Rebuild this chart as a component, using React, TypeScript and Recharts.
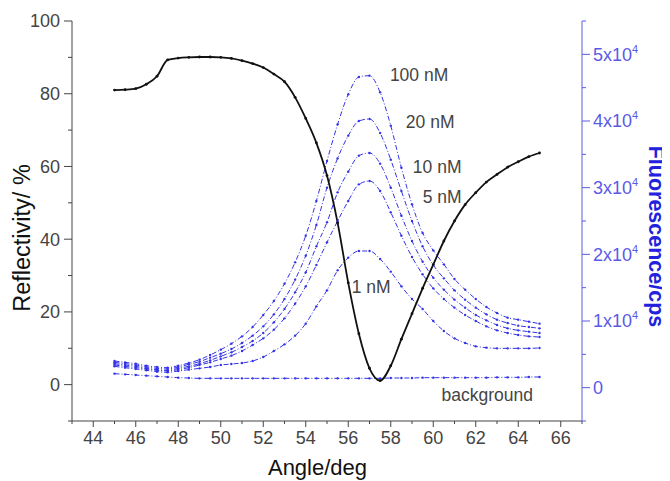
import React from "react";
import {
  LineChart,
  Line,
  XAxis,
  YAxis,
  ReferenceDot,
} from "recharts";

// angle in degrees, reflectivity in %, fluorescence in 10^3 cps
const ANGLES = [
  45, 45.5, 46, 46.5, 47, 47.5, 48, 48.5, 49, 49.5, 50, 50.5, 51, 51.5, 52,
  52.5, 53, 53.5, 54, 54.5, 55, 55.5, 56, 56.5, 57, 57.5, 58, 58.5, 59, 59.5,
  60, 60.5, 61, 61.5, 62, 62.5, 63, 63.5, 64, 64.5, 65,
];

const REFLECTIVITY = [
  81.0, 81.1, 81.4, 82.6, 84.8, 89.3, 89.8, 90.0, 90.1, 90.1, 90.0, 89.7, 89.1,
  88.3, 87.2, 85.4, 83.3, 79.0, 73.2, 66.5, 57.5, 44.5, 28.0, 14.0, 4.5, 1.1,
  5.2, 12.5, 19.5, 26.5, 33.0, 39.5, 45.0, 49.5, 52.8, 55.7, 57.8, 59.8, 61.3,
  62.7, 63.7,
];

const FL_100NM = [
  4.0, 3.8, 3.6, 3.3, 3.1, 3.0, 3.3, 3.7, 4.2, 4.9, 5.7, 6.6, 7.7, 9.1, 10.9,
  13.0, 15.6, 18.8, 22.8, 28.0, 34.0, 39.5, 44.0, 46.6, 46.8, 44.3, 39.3, 33.0,
  27.5, 23.2, 20.6, 18.5, 16.3, 14.7, 13.3, 12.1, 11.2, 10.5, 10.2, 9.9, 9.6,
];

const FL_20NM = [
  3.8, 3.6, 3.4, 3.1, 2.9, 2.8, 3.1, 3.5, 3.9, 4.5, 5.1, 5.8, 6.7, 7.8, 9.2,
  11.0, 13.3, 16.2, 19.8, 24.4, 30.0, 34.4, 37.8, 40.0, 40.3, 38.2, 34.2, 29.5,
  25.0, 21.2, 18.4, 16.4, 14.6, 13.2, 12.0, 11.0, 10.2, 9.7, 9.3, 9.1, 8.9,
];

const FL_10NM = [
  3.6, 3.4, 3.2, 2.9, 2.7, 2.6, 2.9, 3.2, 3.6, 4.1, 4.7, 5.3, 6.1, 7.0, 8.2,
  9.8, 11.8, 14.3, 17.3, 21.2, 24.8, 29.3, 32.4, 34.8, 35.2, 33.6, 30.0, 25.8,
  22.0, 18.9, 16.5, 14.7, 13.2, 12.0, 10.9, 10.1, 9.4, 8.9, 8.6, 8.4, 8.2,
];

const FL_5NM = [
  3.4, 3.2, 3.0, 2.8, 2.6, 2.5, 2.7, 3.0, 3.4, 3.8, 4.3, 4.8, 5.5, 6.4, 7.4,
  8.7, 10.4, 12.6, 15.2, 18.4, 21.8, 25.0, 28.0, 30.5, 31.0, 29.5, 26.3, 22.8,
  19.6, 17.0, 14.9, 13.3, 12.0, 10.9, 10.0, 9.2, 8.6, 8.2, 7.9, 7.7, 7.6,
];

const FL_1NM = [
  3.2, 3.0, 2.8, 2.6, 2.4, 2.3, 2.5, 2.7, 2.9, 3.1, 3.4, 3.55, 3.7, 4.0, 4.6,
  5.5, 6.5, 7.8, 9.6, 12.2, 14.6, 17.6, 19.5, 20.5, 20.5, 19.3, 17.4, 15.2,
  13.3, 11.8, 10.0, 8.5, 7.4, 6.7, 6.2, 6.0, 5.9, 5.9, 5.9, 5.9, 5.95,
];

const FL_BACKGROUND = [
  2.1, 2.0, 1.9, 1.8, 1.7, 1.6, 1.5, 1.45, 1.4, 1.4, 1.4, 1.4, 1.4, 1.4, 1.4,
  1.4, 1.4, 1.4, 1.4, 1.4, 1.4, 1.4, 1.4, 1.4, 1.4, 1.4, 1.45, 1.45, 1.45, 1.5,
  1.5, 1.5, 1.5, 1.5, 1.5, 1.5, 1.55, 1.55, 1.55, 1.6, 1.6,
];

const X_TICKS = [
  43, 44, 45, 46, 47, 48, 49, 50, 51, 52, 53, 54, 55, 56, 57, 58, 59, 60, 61,
  62, 63, 64, 65, 66, 67,
];
const LEFT_TICKS = [-10, 0, 10, 20, 30, 40, 50, 60, 70, 80, 90, 100];
const RIGHT_TICKS = [-5, 0, 5, 10, 15, 20, 25, 30, 35, 40, 45, 50, 55];

// labels: [text, angle, fluorescence]
const LABELS: Array<[string, number, number]> = [
  ["100 nM", 57.96, 46.9],
  ["20 nM", 58.71, 39.85],
  ["10 nM", 59.04, 33.1],
  ["5 nM", 59.5, 28.6],
  ["1 nM", 56.16, 15.1],
  ["background", 60.39, -1.14],
];

const data = ANGLES.map((a, i) => ({
  angle: a,
  refl: REFLECTIVITY[i],
  c100: FL_100NM[i],
  c20: FL_20NM[i],
  c10: FL_10NM[i],
  c5: FL_5NM[i],
  c1: FL_1NM[i],
  bg: FL_BACKGROUND[i],
}));

const FONT = "'Liberation Sans', Arial, sans-serif";
const AXIS = "#444";
const TXT = "#444";
const BLUE = "#3434e6";
const BLUE_AXIS = "#5a5ae8";

const BottomTick = (props: any) => {
  const { x, y, payload } = props;
  const v = payload.value;
  const major = v % 2 === 0;
  return (
    <g>
      <line x1={x} x2={x} y1={y} y2={y + (major ? 6 : 3)} stroke={AXIS} />
      {major && (
        <text x={x} y={y + 23} textAnchor="middle" fontSize={18} fill={TXT} fontFamily={FONT}>
          {v}
        </text>
      )}
    </g>
  );
};

const TopTick = (props: any) => {
  const { x, y, payload } = props;
  const major = payload.value % 2 === 0;
  return <line x1={x} x2={x} y1={y} y2={y + (major ? 6 : 4)} stroke={AXIS} />;
};

const LeftTick = (props: any) => {
  const { x, y, payload } = props;
  const v = payload.value;
  const major = v % 20 === 0 && v >= 0;
  return (
    <g>
      <line x1={x} x2={x - (major ? 8 : 4)} y1={y} y2={y} stroke={AXIS} />
      {major && (
        <text x={x - 12} y={y + 6.4} textAnchor="end" fontSize={18} fill={TXT} fontFamily={FONT}>
          {v}
        </text>
      )}
    </g>
  );
};

const RightTick = (props: any) => {
  const { x, y, payload } = props;
  const v = payload.value;
  const major = v % 10 === 0 && v >= 0;
  return (
    <g>
      <line x1={x} x2={x + (major ? 8 : 4)} y1={y} y2={y} stroke={BLUE_AXIS} />
      {major && (
        <text x={x + 11} y={y + 6.4} fontSize={18} fill={BLUE_AXIS} fontFamily={FONT}>
          {v === 0 ? (
            "0"
          ) : (
            <>
              {`${v / 10}x10`}
              <tspan fontSize={11} dy={-8}>4</tspan>
            </>
          )}
        </text>
      )}
    </g>
  );
};

const annot = (text: string) => (p: any) => {
  const vb = p.viewBox;
  return (
    <text
      x={vb.x + vb.width / 2}
      y={vb.y + vb.height / 2 + 6}
      fontSize={17.5}
      fill={TXT}
      fontFamily={FONT}
    >
      {text}
    </text>
  );
};

const blueLine = (key: string) => (
  <Line
    key={key}
    xAxisId="bottom"
    yAxisId="right"
    type="monotone"
    dataKey={key}
    stroke={BLUE}
    strokeWidth={1}
    strokeDasharray="5 2 1 2"
    dot={{ r: 1.2, fill: BLUE, stroke: "none" }}
    isAnimationActive={false}
  />
);

export default function App() {
  return (
    <LineChart
      width={662}
      height={473}
      data={data}
      margin={{ top: 13, right: 0, bottom: 0, left: 0 }}
    >
      <XAxis
        xAxisId="bottom"
        dataKey="angle"
        type="number"
        domain={[43, 67]}
        ticks={X_TICKS}
        interval={0}
        height={60}
        tickSize={0}
        tickMargin={0}
        tick={<BottomTick />}
        axisLine={{ stroke: AXIS }}
        label={{
          content: (p: any) => (
            <text
              x={p.viewBox.x + p.viewBox.width / 2 - 9.5}
              y={p.viewBox.y + 54}
              textAnchor="middle"
              fontSize={22}
              fill="#111"
              fontFamily={FONT}
            >
              Angle/deg
            </text>
          ),
        }}
      />
      <XAxis
        xAxisId="top"
        orientation="top"
        dataKey="angle"
        type="number"
        domain={[43, 67]}
        ticks={X_TICKS}
        interval={0}
        height={0}
        tickSize={0}
        tickMargin={0}
        tick={<TopTick />}
        axisLine={{ stroke: AXIS }}
      />
      <YAxis
        yAxisId="left"
        domain={[-10, 100]}
        ticks={LEFT_TICKS}
        interval={0}
        width={64}
        tickSize={0}
        tickMargin={0}
        tick={<LeftTick />}
        axisLine={{ stroke: AXIS }}
        allowDataOverflow
        label={{
          content: (p: any) => {
            const cx = p.viewBox.x + 14;
            const cy = p.viewBox.y + p.viewBox.height / 2 + 17;
            return (
              <text
                x={cx}
                y={cy}
                transform={`rotate(-90 ${cx} ${cy})`}
                textAnchor="middle"
                dominantBaseline="central"
                fontSize={23.5}
                fill="#111"
                fontFamily={FONT}
              >
                Reflectivity/ %
              </text>
            );
          },
        }}
      />
      <YAxis
        yAxisId="right"
        orientation="right"
        domain={[-5, 55]}
        ticks={RIGHT_TICKS}
        interval={0}
        width={88}
        tickSize={0}
        tickMargin={0}
        tick={<RightTick />}
        axisLine={{ stroke: BLUE_AXIS }}
        allowDataOverflow
        label={{
          content: (p: any) => {
            const cx = p.viewBox.x + 74;
            const cy = p.viewBox.y + p.viewBox.height / 2 + 15.5;
            return (
              <text
                x={cx}
                y={cy}
                transform={`rotate(90 ${cx} ${cy})`}
                textAnchor="middle"
                dominantBaseline="central"
                fontSize={21.5}
                fontWeight="bold"
                fill="#2222dd"
                fontFamily={FONT}
              >
                Fluorescence/cps
              </text>
            );
          },
        }}
      />
      {blueLine("bg")}
      {blueLine("c1")}
      {blueLine("c5")}
      {blueLine("c10")}
      {blueLine("c20")}
      {blueLine("c100")}
      <Line
        xAxisId="bottom"
        yAxisId="left"
        type="monotone"
        dataKey="refl"
        stroke="#111"
        strokeWidth={1.8}
        dot={{ r: 1.4, fill: "#111", stroke: "none" }}
        isAnimationActive={false}
      />
      {LABELS.map(([text, a, f]) => (
        <ReferenceDot
          key={text}
          xAxisId="bottom"
          yAxisId="right"
          x={a}
          y={f}
          r={1}
          fill="none"
          stroke="none"
          label={{ content: annot(text) }}
        />
      ))}
    </LineChart>
  );
}
